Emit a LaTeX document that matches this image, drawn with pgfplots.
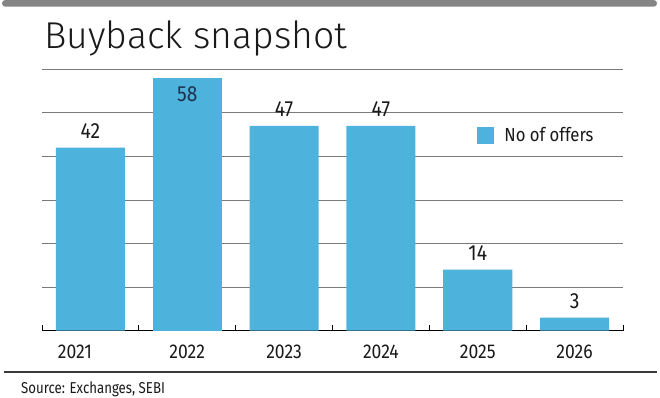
\documentclass[border=0pt]{standalone}
\usepackage{fontspec}
\usepackage{pgfplots}
\pgfplotsset{compat=1.18}
\setmainfont{Fira Sans}[FakeStretch=0.88]
\newfontfamily\titlefont{Fira Sans Light}
\newfontfamily\srcfont{Fira Sans}[FakeStretch=0.84]
\definecolor{barblue}{HTML}{4EB3DC}
\definecolor{gridgray}{HTML}{7A7A7A}
\definecolor{topgray}{HTML}{858585}
\definecolor{navy}{HTML}{1C3350}
\definecolor{txt}{HTML}{1A1A1A}
\definecolor{sepgray}{HTML}{3A3A3A}
\begin{document}
\begin{tikzpicture}[x=1bp,y=1bp]
\useasboundingbox (0,0) rectangle (660,397);
\fill[topgray, rounded corners=3.3bp] (2,390.3) rectangle (657,397);
\node[anchor=base west, inner sep=0pt, font=\titlefont\fontsize{37.5}{42}\selectfont, text=txt] at (44,349) {Buyback snapshot};
\begin{axis}[
  at={(42bp,66.3bp)}, anchor=south west, scale only axis,
  width=581bp, height=261.4bp,
  xmin=-0.5, xmax=5.5, ymin=0, ymax=60,
  clip=false,
  /pgf/number format/assume math mode=true,
  axis x line*=bottom, axis y line*=left,
  y axis line style={draw=none},
  x axis line style={black, line width=1.3bp},
  ytick={10,20,...,60}, yticklabels={}, ytick style={draw=none},
  ymajorgrids, grid style={gridgray, line width=1bp},
  xtick={0,...,5},
  xticklabels={{\makebox[0pt][c]{\hspace{-31bp}2021}},2022,2023,2024,2025,2026},
  major x tick style={draw=none},
  minor xtick={-0.5,0.5,...,5.5},
  minor x tick style={black, line width=1bp},
  minor tick length=5.7bp,
  tick align=inside,
  xticklabel style={font=\fontsize{20}{24}\selectfont, text=txt, inner sep=0pt, anchor=north, yshift=-14.3bp},
  legend style={at={(0.748,0.7468)}, anchor=west, draw=none, fill=none, inner sep=0pt,
    nodes={inner sep=0pt}, font=\fontsize{19}{22}\selectfont, text=txt, column sep=10.7bp},
  legend cell align=left,
]
\addplot[ybar, bar width=0.713, bar shift=0pt, fill=barblue, draw=none,
  legend image code/.code={\fill[barblue] (0bp,-8.5bp) rectangle (17bp,8.5bp);},
  nodes near coords,
  every node near coord/.append style={font=\fontsize{22}{26}\selectfont, text=txt, anchor=south, inner sep=0pt, yshift=9bp}]
  coordinates {(0,42) (2,47) (3,47) (4,14) (5,3)};
\addlegendentry{No of offers}
\addplot[ybar, bar width=0.713, bar shift=0pt, fill=barblue, draw=none, forget plot,
  nodes near coords,
  every node near coord/.append style={font=\fontsize{22}{26}\selectfont, text=navy, anchor=north, inner sep=0pt, yshift=-8.7bp}]
  coordinates {(1,58)};
\end{axis}
\draw[sepgray, line width=1.3bp] (4,25) -- (657,25);
\node[anchor=base west, inner sep=0pt, font=\srcfont\fontsize{15.8}{18}\selectfont, text=txt] at (21,3.7) {Source: Exchanges, SEBI};
\end{tikzpicture}
\end{document}
